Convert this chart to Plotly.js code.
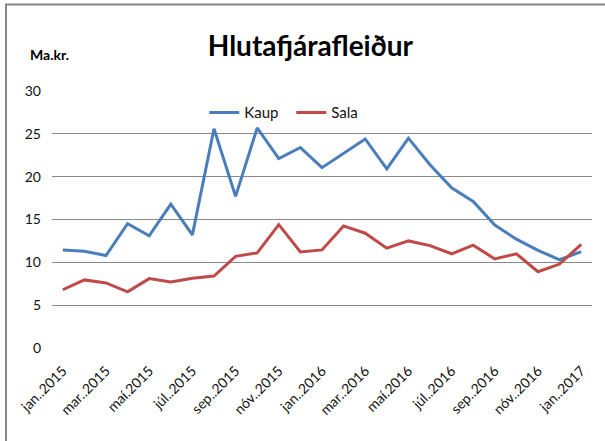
<!DOCTYPE html>
<html>
<head>
<meta charset="utf-8">
<script src="https://cdn.plot.ly/plotly-3.0.1.min.js"></script>
<style>html,body{margin:0;padding:0;background:#fff;}#chart{width:605px;height:441px;}</style>
</head>
<body>
<div id="chart"></div>
<script>
const months = ["jan..2015","feb..2015","mar..2015","apr..2015","maí.2015","jún..2015","júl..2015","ágú..2015","sep..2015","okt..2015","nóv..2015","des..2015",
  "jan..2016","feb..2016","mar..2016","apr..2016","maí.2016","jún..2016","júl..2016","ágú..2016","sep..2016","okt..2016","nóv..2016","des..2016","jan..2017"];
const kaup = [11.45,11.3,10.8,14.5,13.1,16.8,13.2,25.6,17.7,25.7,22.1,23.4,21.05,22.7,24.4,20.9,24.5,21.4,18.7,17.1,14.35,12.7,11.4,10.3,11.25];
const sala = [6.8,7.95,7.6,6.55,8.1,7.7,8.15,8.4,10.7,11.1,14.4,11.2,11.45,14.25,13.4,11.65,12.5,11.95,11.0,12.0,10.4,11.0,8.9,9.8,12.1];
const tickLabels = months.filter((m, i) => i % 2 === 0);
const yTicks = [0,5,10,15,20,25,30];

const FONT = "Lato, 'Open Sans', sans-serif";
const traces = [
  {x: months, y: kaup, name: "Kaup", type: "scatter", mode: "lines", line: {color: "#4A7EBB", width: 3}},
  {x: months, y: sala, name: "Sala", type: "scatter", mode: "lines", line: {color: "#BE4B48", width: 3}}
];
const layout = {
  width: 605, height: 441,
  margin: {l: 52, r: 13, t: 91, b: 93},
  paper_bgcolor: "#ffffff", plot_bgcolor: "#ffffff",
  font: {family: FONT, color: "#111111"},
  title: {text: "<b>Hlutafjárafleiður</b>", font: {family: FONT, size: 28, color: "#000000"},
    x: 0.513, xanchor: "center", y: 0.895, yanchor: "middle", xref: "container", yref: "container"},
  showlegend: true,
  legend: {orientation: "h", x: 0.282, xanchor: "left", y: 0.98, yanchor: "top",
    font: {family: FONT, size: 15, color: "#111111"}, bgcolor: "rgba(0,0,0,0)", itemwidth: 30, tracegroupgap: 0,
    entrywidth: 42, entrywidthmode: "pixels"},
  xaxis: {type: "category", range: [-0.5, 24.5], tickmode: "array", tickvals: tickLabels, ticktext: tickLabels,
    tickangle: -45, tickfont: {family: FONT, size: 14, color: "#111111"}, showgrid: false, zeroline: false,
    showline: false, ticks: "", ticklabelstandoff: 11, fixedrange: true},
  yaxis: {range: [0, 30], tickmode: "array", tickvals: yTicks, ticktext: yTicks.map(String),
    tickfont: {family: FONT, size: 14, color: "#111111"}, showgrid: true, gridcolor: "#8a8a8a", gridwidth: 1,
    zeroline: false, showline: false, ticks: "", ticklabelstandoff: 10, fixedrange: true},
  annotations: [
    {text: "<b>Ma.kr.</b>", xref: "paper", yref: "paper", x: (28 - 52) / 540, y: (348 - 54) / 257,
      xanchor: "left", yanchor: "middle", showarrow: false, font: {family: FONT, size: 14, color: "#000000"}}
  ],
  shapes: [
    {type: "rect", xref: "paper", yref: "paper", x0: (6 - 52) / 540, x1: (612 - 52) / 540,
      y0: (348 - 452) / 257, y1: (348 - 4.5) / 257, line: {color: "#868686", width: 2}, fillcolor: "rgba(0,0,0,0)", layer: "below"}
  ]
};
Plotly.newPlot("chart", traces, layout, {displayModeBar: false, staticPlot: true});
</script>
</body>
</html>
